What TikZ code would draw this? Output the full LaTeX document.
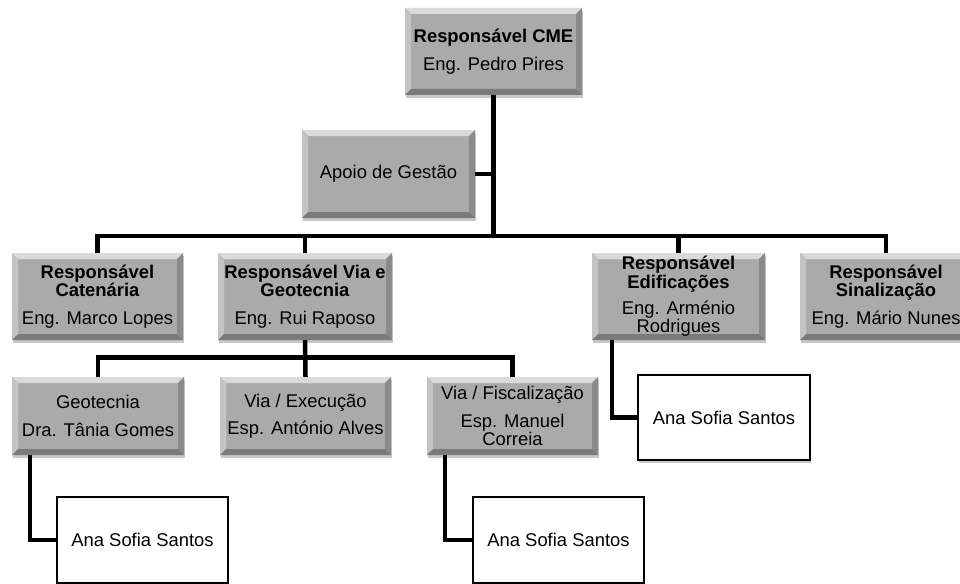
\documentclass[tikz,border=0pt]{standalone}
\usepackage{fontspec}
\setmainfont{Liberation Sans}
\usetikzlibrary{shadows}
\pgfdeclarelayer{bg}
\pgfdeclarelayer{conn}
\pgfsetlayers{bg,conn,main}
\definecolor{boxgray}{RGB}{170,170,170}
\definecolor{bevT}{RGB}{218,218,218}
\definecolor{bevL}{RGB}{196,196,196}
\definecolor{bevR}{RGB}{138,138,138}
\definecolor{bevB}{RGB}{122,122,122}
\newcommand{\orgfs}{\fontsize{18.4}{18.4}\selectfont}
\tikzset{
  x=1pt, y=-1pt,
  orgshadow/.style={drop shadow={shadow xshift=1pt, shadow yshift=-3pt, opacity=0.22, fill=black}},
  gbox/.style 2 args={rectangle, fill=boxgray, inner sep=0pt, align=center, font=\orgfs,
    minimum width=#1, minimum height=#2, orgshadow,
    path picture={
      \fill[bevT] (path picture bounding box.north west) -- (path picture bounding box.north east)
        -- ([shift={(-6pt,-6pt)}]path picture bounding box.north east)
        -- ([shift={(6pt,-6pt)}]path picture bounding box.north west) -- cycle;
      \fill[bevL] (path picture bounding box.north west) -- (path picture bounding box.south west)
        -- ([shift={(6pt,6pt)}]path picture bounding box.south west)
        -- ([shift={(6pt,-6pt)}]path picture bounding box.north west) -- cycle;
      \fill[bevR] (path picture bounding box.north east) -- (path picture bounding box.south east)
        -- ([shift={(-6pt,6pt)}]path picture bounding box.south east)
        -- ([shift={(-6pt,-6pt)}]path picture bounding box.north east) -- cycle;
      \fill[bevB] (path picture bounding box.south west) -- (path picture bounding box.south east)
        -- ([shift={(-6pt,6pt)}]path picture bounding box.south east)
        -- ([shift={(6pt,6pt)}]path picture bounding box.south west) -- cycle;
    }},
  wbox/.style 2 args={rectangle, fill=white, draw=black, line width=1.8pt, inner sep=0pt,
    align=center, font=\orgfs, minimum width=#1, minimum height=#2, orgshadow},
  conn/.style={line width=4.5pt, black}
}
\begin{document}
\begin{tikzpicture}
\useasboundingbox (0,0) rectangle (960,583);
\begin{pgfonlayer}{bg}
  \fill[white] (0,0) rectangle (960,583);
\end{pgfonlayer}

\node[gbox={177pt}{87pt}] (top) at (493.5,51.5) {\textbf{Responsável CME}\\[9pt]Eng. Pedro Pires};
\node[gbox={173pt}{88pt}] (apoio) at (388.5,174) {Apoio de Gestão};

\node[gbox={171pt}{87pt}] (cat) at (97.5,296.5) {\textbf{Responsável}\\\textbf{Catenária}\\[9pt]Eng. Marco Lopes};
\node[gbox={174pt}{87pt}] (via) at (305,296.5) {\textbf{Responsável Via e}\\\textbf{Geotecnia}\\[9pt]Eng. Rui Raposo};
\node[gbox={173pt}{87pt}] (edi) at (678.5,296.5) {\textbf{Responsável}\\\textbf{Edificações}\\[8pt]Eng. Arménio\\Rodrigues};
\node[gbox={172pt}{87pt}] (sin) at (886,296.5) {\textbf{Responsável}\\\textbf{Sinalização}\\[9pt]Eng. Mário Nunes};

\node[gbox={172pt}{78pt}] (geo) at (98,416) {Geotecnia\\[9pt]Dra. Tânia Gomes};
\node[gbox={171pt}{78pt}] (exe) at (305.5,416) {Via / Execução\\[9pt]Esp. António Alves};
\node[gbox={171pt}{78pt}] (fis) at (512.5,416) {Via / Fiscalização\\[9pt]Esp. Manuel\\Correia};

\node[wbox={171pt}{86pt}] (ana1) at (142.5,540) {Ana Sofia Santos};
\node[wbox={171pt}{86pt}] (ana2) at (558.5,540) {Ana Sofia Santos};
\node[wbox={172pt}{85pt}] (ana3) at (724,417.5) {Ana Sofia Santos};

\coordinate (bus) at (0,236);
\coordinate (bus2) at (0,357.5);

\begin{pgfonlayer}{conn}
  \draw[conn] (top.south) -- (top.south |- bus);
  \draw[conn] (apoio.east) -- (apoio.east -| top.south);
  \draw[conn] (cat.north) |- (sin.north |- bus) -- (sin.north);
  \draw[conn] (via.north) -- (via.north |- bus);
  \draw[conn] (edi.north) -- (edi.north |- bus);
  \draw[conn] (geo.north) |- (fis.north |- bus2) -- (fis.north);
  \draw[conn] (via.south) -- (exe.north);
  \draw[conn] ([xshift=18pt]geo.south west) |- (ana1.west);
  \draw[conn] ([xshift=18pt]fis.south west) |- (ana2.west);
  \draw[conn] ([xshift=20pt]edi.south west) |- (ana3.west);
\end{pgfonlayer}
\end{tikzpicture}
\end{document}
